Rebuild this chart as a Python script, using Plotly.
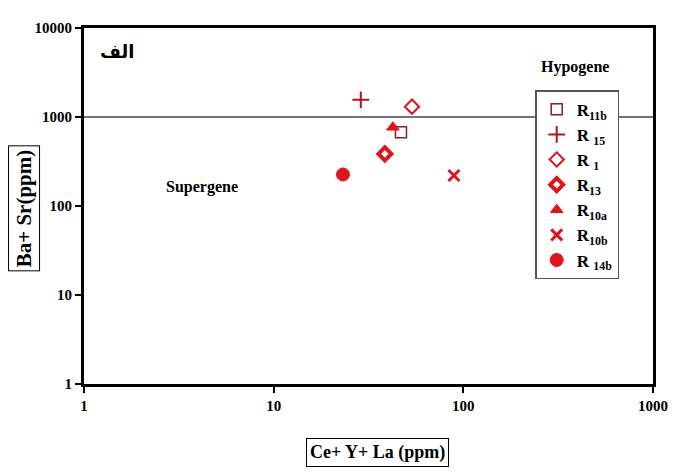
import plotly.graph_objects as go

samples = ["R<sub>11b</sub>", "R <sub>15</sub>", "R <sub>1</sub>", "R<sub>13</sub>", "R<sub>10a</sub>", "R<sub>10b</sub>", "R <sub>14b</sub>"]
ree_sum = [46.9, 28.8, 53.6, 38.6, 42.5, 89.2, 23.2]      # Ce+Y+La (ppm)
ba_sr = [674, 1560, 1306, 385, 766, 220, 226]              # Ba+Sr (ppm)
x_ticks = [1, 10, 100, 1000]
y_ticks = [1, 10, 100, 1000, 10000]
boundary = 1000

symbols = ["square-open", "cross-thin-open", "diamond-open", "diamond-open",
           "triangle-up", "x-thin-open", "circle"]
colors = ["#8a1c1c", "#b0141c", "#e0141c", "#e0141c", "#e0141c", "#e0141c", "#e0141c"]
sizes = [11, 12, 11, 10, 11, 11, 13]
lw = [1.5, 2, 2, 4, 1, 3, 1]

font = "Liberation Serif"
fig = go.Figure()
for i, s in enumerate(samples):
    fig.add_trace(go.Scatter(
        x=[ree_sum[i]], y=[ba_sr[i]], mode="markers", name=s,
        marker=dict(symbol=symbols[i], size=sizes[i], color=colors[i],
                    line=dict(width=lw[i], color=colors[i]))))

fig.add_shape(type="line", xref="paper", yref="y", x0=0, x1=1,
              y0=boundary, y1=boundary, line=dict(color="#444444", width=1.5))

axis_common = dict(type="log", showgrid=False, zeroline=False, showline=True,
                   linecolor="black", linewidth=3, mirror=True, ticks="outside",
                   ticklen=6, tickwidth=2, tickcolor="black",
                   tickfont=dict(family=font, size=15, color="black", weight="bold"))
fig.update_xaxes(range=[0, 3], tickvals=x_ticks, ticktext=[str(v) for v in x_ticks], **axis_common)
fig.update_yaxes(range=[0, 4], tickvals=y_ticks, ticktext=[str(v) for v in y_ticks], **axis_common)

ann = []
ann.append(dict(text="Ce+ Y+ La (ppm)", xref="paper", yref="paper", x=0.515, y=-0.152,
                xanchor="center", yanchor="top", showarrow=False, borderwidth=1,
                bordercolor="black", borderpad=3,
                font=dict(family=font, size=18, color="black", weight="bold")))
ann.append(dict(text="Ba+ Sr(ppm)", xref="paper", yref="paper", x=-0.077, y=0.494,
                textangle=-90, xanchor="right", yanchor="middle", showarrow=False,
                borderwidth=1, bordercolor="black", borderpad=3,
                font=dict(family=font, size=21, color="black", weight="bold")))
ann.append(dict(text="Hypogene", xref="paper", yref="paper", x=0.863, y=0.89,
                xanchor="center", yanchor="middle", showarrow=False,
                font=dict(family=font, size=16, color="black", weight="bold")))
ann.append(dict(text="Supergene", xref="paper", yref="paper", x=0.207, y=0.552,
                xanchor="center", yanchor="middle", showarrow=False,
                font=dict(family=font, size=16, color="black", weight="bold")))
ann.append(dict(text="الف", xref="paper", yref="paper", x=0.058, y=0.935,
                xanchor="center", yanchor="middle", showarrow=False,
                font=dict(family="DejaVu Sans", size=18, color="black", weight="bold")))

fig.update_layout(
    width=686, height=472, paper_bgcolor="white", plot_bgcolor="white",
    margin=dict(l=76, r=41, t=14, b=96),
    annotations=ann,
    legend=dict(x=0.793, y=0.825, xanchor="left", yanchor="top",
                bordercolor="#555555", borderwidth=1.5, bgcolor="white",
                font=dict(family=font, size=17, color="black", weight="bold"),
                itemsizing="trace", tracegroupgap=0),
    showlegend=True,
)
fig.write_html("out.html")
